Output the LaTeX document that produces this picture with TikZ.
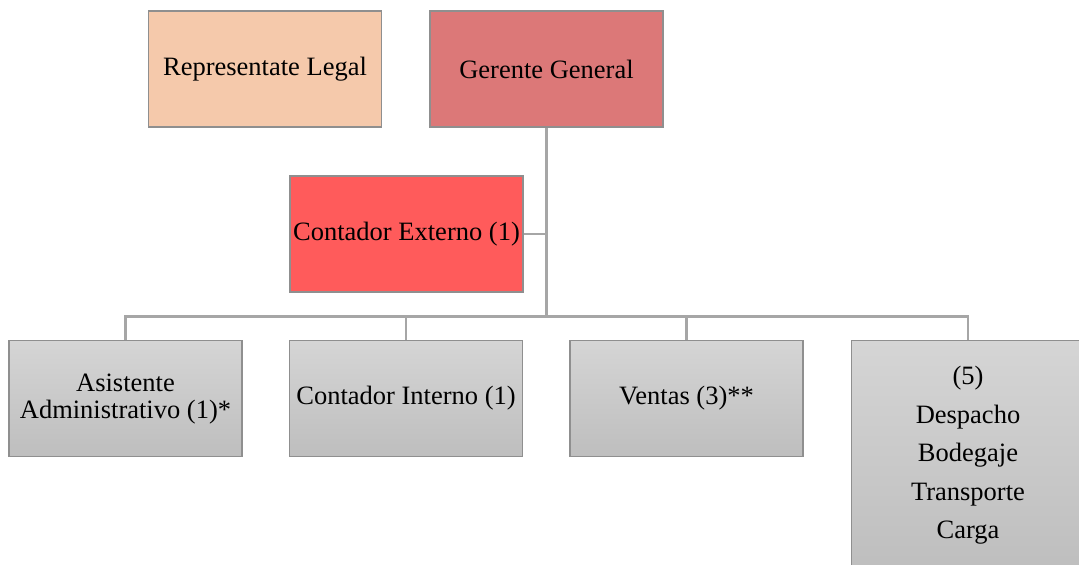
\documentclass[tikz,border=0pt]{standalone}
\usepackage{fontspec}
\setmainfont{Liberation Serif}
\usetikzlibrary{positioning}
\definecolor{legalfill}{HTML}{F5C9AB}
\definecolor{gerfill}{HTML}{DC7878}
\definecolor{extfill}{HTML}{FF5B5B}
\definecolor{staffTop}{HTML}{D5D5D5}
\definecolor{staffBot}{HTML}{BEBEBE}
\definecolor{edgegray}{HTML}{8F8F8F}
\definecolor{linegray}{HTML}{A6A6A6}
\begin{document}
\begin{tikzpicture}[font=\fontsize{13.25}{13.5}\selectfont]
    \tikzstyle{box} = [rectangle, draw=edgegray, line width=0.6pt, minimum width=116.5pt, minimum height=58pt, inner sep=0pt, align=center]
    \tikzstyle{top} = [box, fill=legalfill]
    \tikzstyle{boss} = [box, fill=gerfill]
    \tikzstyle{ext} = [box, fill=extfill]
    \tikzstyle{staff} = [box, top color=staffTop, bottom color=staffBot]
    \tikzstyle{conn} = [draw=linegray, line width=1.1pt]
    \useasboundingbox (-273.25pt,34.5pt) rectangle (266.25pt,-248pt);
        \node[boss] (gg) {Gerente General};
        \node[top,xshift=-140.75pt] (legal) at (gg) {Representate Legal};
        % level 1
        \node[ext,below=53.25pt,xshift=-70pt] (ext) at (gg) {Contador Externo (1)};
        \coordinate[below=94.5pt] (bus) at (gg.south);
        \draw[conn] (gg) -- (bus);
        \draw[conn] (ext.east) -- (ext.east -| gg.south);
        % level 2
        \node[staff,below=135.5pt,xshift=-210.5pt] (asis) at (gg) {Asistente\\Administrativo (1)*};
        \node[staff,below=135.5pt,xshift=-70.25pt] (cint) at (gg) {Contador Interno (1)};
        \node[staff,below=135.5pt,xshift=70pt] (ventas) at (gg) {Ventas (3)**};
        \node[staff,below=135.5pt,xshift=210.75pt,minimum height=115pt] (desp) at (gg) {(5)\\[5.75pt]Despacho\\[5.75pt]Bodegaje\\[5.75pt]Transporte\\[5.75pt]Carga};
        \draw[conn] (bus) -| (asis);
        \draw[conn] (bus) -| (cint);
        \draw[conn] (bus) -| (ventas);
        \draw[conn] (bus) -| (desp);
\end{tikzpicture}
\end{document}
